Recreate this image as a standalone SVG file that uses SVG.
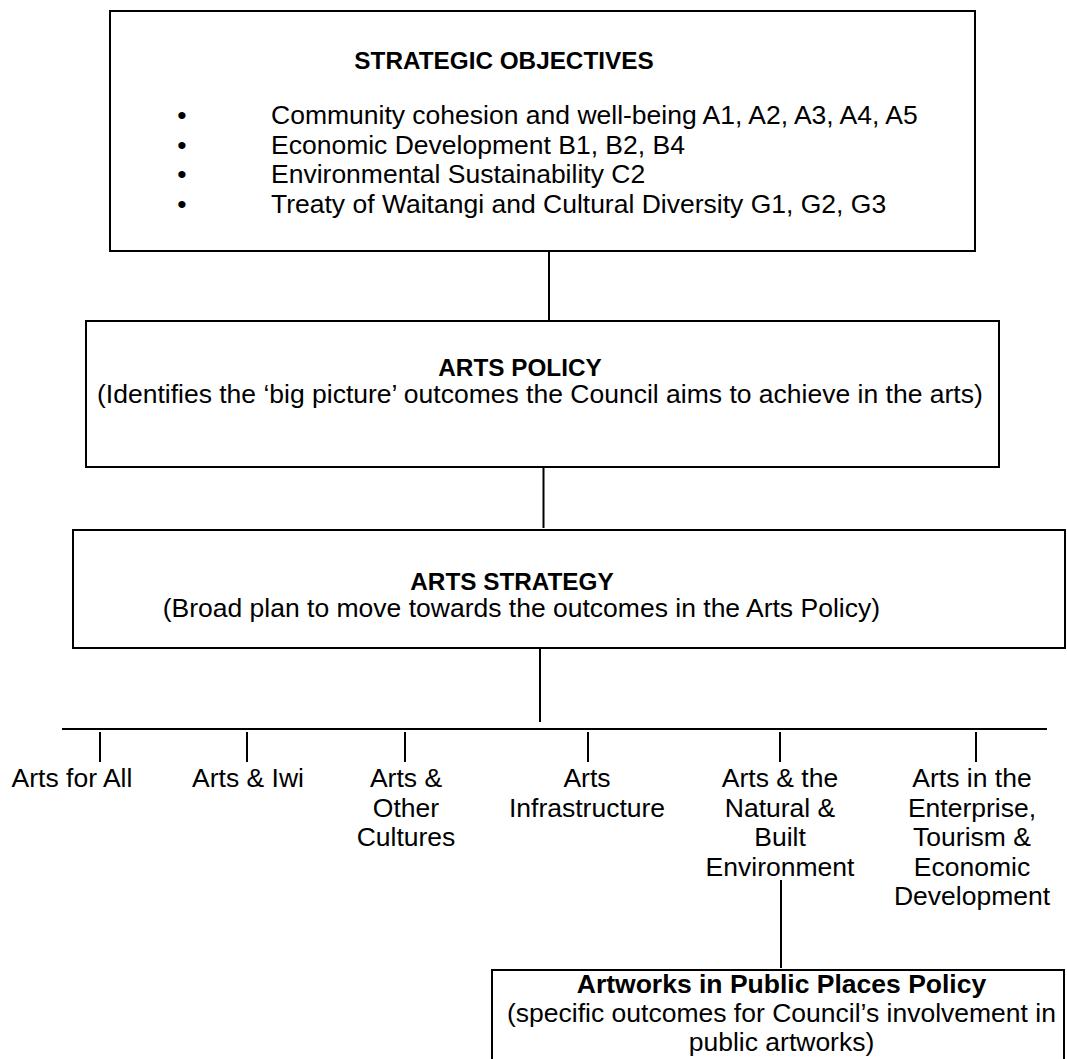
<svg xmlns="http://www.w3.org/2000/svg" width="1067" height="1059" viewBox="0 0 1067 1059">
<style>
.box{fill:#fff;stroke:#000;stroke-width:2}
.ln{stroke:#000;stroke-width:2;fill:none}
.t{font-family:"Liberation Sans",Arial,sans-serif;font-size:26.5px;fill:#000}
.h{font-family:"Liberation Sans",Arial,sans-serif;font-size:24.3px;font-weight:bold;fill:#000}
.b{font-weight:bold}
.m{text-anchor:middle}
</style>
<rect width="1067" height="1059" fill="#fff"/>
<g id="connectors">
<line class="ln" x1="549" y1="251" x2="549" y2="321"/>
<line class="ln" x1="543.5" y1="464" x2="543.5" y2="528"/>
<line class="ln" x1="540" y1="648" x2="540" y2="722"/>
<line class="ln" x1="62" y1="729" x2="1047" y2="729"/>
<line class="ln" x1="100" y1="732" x2="100" y2="762"/>
<line class="ln" x1="247" y1="732" x2="247" y2="762"/>
<line class="ln" x1="405" y1="732" x2="405" y2="762"/>
<line class="ln" x1="588" y1="732" x2="588" y2="762"/>
<line class="ln" x1="780" y1="732" x2="780" y2="762"/>
<line class="ln" x1="976" y1="732" x2="976" y2="762"/>
<line class="ln" x1="781" y1="880" x2="781" y2="968"/>
</g>
<g id="strategic-objectives">
<rect class="box" x="110" y="11" width="865" height="240"/>
<text class="h m" x="504" y="69">STRATEGIC OBJECTIVES</text>
<text class="t m" x="182" y="124">•</text>
<text class="t m" x="182" y="153.6">•</text>
<text class="t m" x="182" y="183.2">•</text>
<text class="t m" x="182" y="212.8">•</text>
<text class="t" x="271" y="124">Community cohesion and well-being A1, A2, A3, A4, A5</text>
<text class="t" x="271" y="153.6">Economic Development B1, B2, B4</text>
<text class="t" x="271" y="183.2">Environmental Sustainability C2</text>
<text class="t" x="271" y="212.8">Treaty of Waitangi and Cultural Diversity G1, G2, G3</text>
</g>
<g id="arts-policy">
<rect class="box" x="86" y="321" width="913" height="146"/>
<text class="h m" x="520" y="376">ARTS POLICY</text>
<text class="t" x="97" y="403">(Identifies the ‘big picture’ outcomes the Council aims to achieve in the arts)</text>
</g>
<g id="arts-strategy">
<rect class="box" x="73" y="530" width="992" height="118"/>
<text class="h m" x="512" y="590">ARTS STRATEGY</text>
<text class="t" x="880" y="617" text-anchor="end">(Broad plan to move towards the outcomes in the Arts Policy)</text>
</g>
<g id="arts-for-all"><text class="t m" x="72" y="787">Arts for All</text></g>
<g id="arts-iwi"><text class="t m" x="248" y="787">Arts &amp; Iwi</text></g>
<g id="arts-other-cultures"><text class="t m" x="406" y="787">Arts &amp;<tspan x="406" dy="29.5">Other</tspan><tspan x="406" dy="29.5">Cultures</tspan></text></g>
<g id="arts-infrastructure"><text class="t m" x="587" y="787">Arts<tspan x="587" dy="29.5">Infrastructure</tspan></text></g>
<g id="arts-environment"><text class="t m" x="780" y="787">Arts &amp; the<tspan x="780" dy="29.5">Natural &amp;</tspan><tspan x="780" dy="29.5">Built</tspan><tspan x="780" dy="29.5">Environment</tspan></text></g>
<g id="arts-enterprise"><text class="t m" x="972" y="787">Arts in the<tspan x="972" dy="29.5">Enterprise,</tspan><tspan x="972" dy="29.5">Tourism &amp;</tspan><tspan x="972" dy="29.5">Economic</tspan><tspan x="972" dy="29.5">Development</tspan></text></g>
<g id="public-places-policy">
<rect class="box" x="492" y="970" width="572" height="100"/>
<text class="t b m" x="781.5" y="993">Artworks in Public Places Policy</text>
<text class="t m" x="781.5" y="1022">(specific outcomes for Council’s involvement in</text>
<text class="t m" x="781.5" y="1051">public artworks)</text>
</g>
</svg>
